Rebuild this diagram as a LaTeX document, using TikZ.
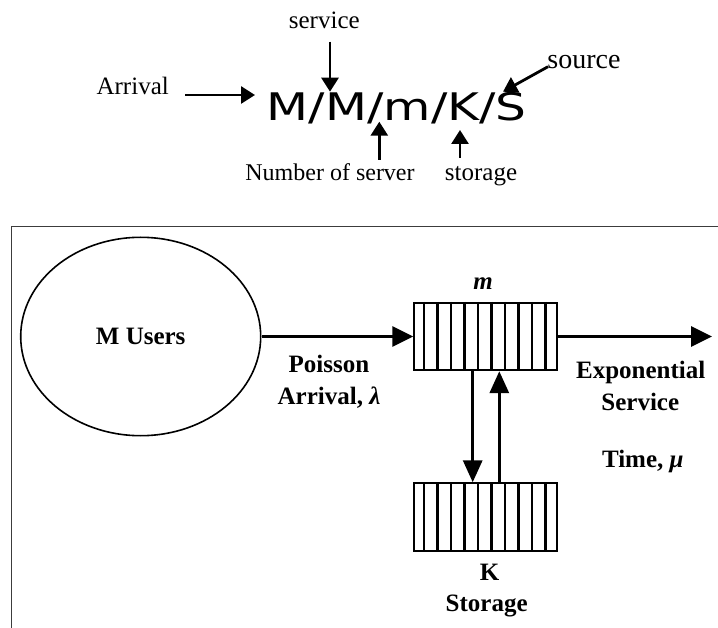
\documentclass[tikz,border=0pt]{standalone}
\usepackage{graphicx}
\usepackage{fontspec}
\setmainfont{Liberation Serif}
\newfontfamily\formfont{DejaVu Sans}
\usetikzlibrary{arrows.meta,shapes.geometric}
\definecolor{framegray}{RGB}{60,60,60}
\begin{document}
\begin{tikzpicture}[x=1pt,y=-1pt,
  lbl/.style={inner sep=0pt, anchor=base, font=\fontsize{25}{30}\selectfont\bfseries},
  toplbl/.style={inner sep=0pt, anchor=base, font=\fontsize{24}{28}\selectfont},
  bigarrow/.style={line width=3.2pt, -{Triangle[length=21pt,width=20pt]}},
  smallarrow/.style={line width=2.8pt, -{Triangle[length=14pt,width=17pt]}},
  queuebox/.style={draw, line width=2pt, minimum width=142.4pt, minimum height=67.4pt, inner sep=0pt},
  stripe/.style={line width=2.2pt}
]
\useasboundingbox (0,0) rectangle (718,628);

% frame (only top and left edges visible)
\draw[line width=1.3pt, framegray] (11.7,640) -- (11.7,226.7) -- (730,226.7);

% ---------- Kendall notation ----------
\node[inner sep=0pt, anchor=base west] (kendall) at (266.7,120.7)
  {\formfont\fontsize{38}{40}\selectfont\scalebox{1.28}[1]{M/M/m/K/S}};
\node[toplbl, font=\fontsize{25}{30}\selectfont] (servicelbl) at (324.3,28.3) {service};
\node[toplbl, font=\fontsize{25}{30}\selectfont, anchor=base east] (arrivallbl) at (169,95) {Arrival};
\node[toplbl, font=\fontsize{28}{32}\selectfont] (sourcelbl) at (584,68.3) {source};
\node[toplbl] (numlbl) at (330,181) {Number of server};
\node[toplbl, font=\fontsize{25}{30}\selectfont] (storagelbl) at (481,181) {storage};

\coordinate (sv1) at (330,41.7);   \coordinate (sv2) at (330,91.7);
\coordinate (ar1) at (185,95);     \coordinate (ar2) at (255,95);
\coordinate (so1) at (548,66.7);   \coordinate (so2) at (503,91.7);
\coordinate (nm1) at (379.3,160);  \coordinate (nm2) at (379.3,121.7);
\coordinate (st1) at (460,158);    \coordinate (st2) at (460,130);
\draw[smallarrow] (sv1) -- (sv2);
\draw[smallarrow] (ar1) -- (ar2);
\draw[smallarrow] (so1) -- (so2);
\draw[smallarrow] (nm1) -- (nm2);
\draw[smallarrow] (st1) -- (st2);

% ---------- queue model ----------
\node[ellipse, draw, line width=1.6pt, minimum width=240pt, minimum height=198.4pt,
      inner sep=0pt, font=\fontsize{25}{30}\selectfont\bfseries] (users) at (140.7,336.5) {M Users};

\node[queuebox] (qtop) at (485.5,336.5) {};
\node[queuebox] (qstore) at (485.5,517) {};
\foreach \k in {0,...,9}{
  \draw[stripe] (qtop.north west) ++(10.7+13.5*\k,0) -- ++(0,67.4);
  \draw[stripe] (qstore.north west) ++(10.7+13.5*\k,0) -- ++(0,67.4);
}

\coordinate (outend) at (712,336.5);
\coordinate (dnx) at (472.7,0);
\coordinate (upx) at (499.3,0);
\draw[bigarrow] (users.east) -- (qtop.west);
\draw[bigarrow] (qtop.east) -- (outend);
\draw[bigarrow, -{Triangle[length=22pt,width=19pt]}] (qtop.south -| dnx) -- (qstore.north -| dnx);
\draw[bigarrow, -{Triangle[length=22pt,width=19pt]}] (qstore.north -| upx) -- (qtop.south -| upx);

\node[lbl, font=\fontsize{25}{30}\selectfont\bfseries\itshape] (mlbl) at (483,290) {m};
\node[lbl] (poisson) at (329,372.7) {Poisson};
\node[lbl] (arrival) at (329,405) {Arrival, \textit{λ}};
\node[lbl] (expo) at (640.7,378.3) {Exponential};
\node[lbl] (servlbl) at (640.3,410) {Service};
\node[lbl] (timelbl) at (642.8,467.3) {Time, \textit{μ}};
\node[lbl] (klbl) at (489.7,580) {K};
\node[lbl] (storlbl) at (486.7,611.7) {Storage};
\end{tikzpicture}
\end{document}
